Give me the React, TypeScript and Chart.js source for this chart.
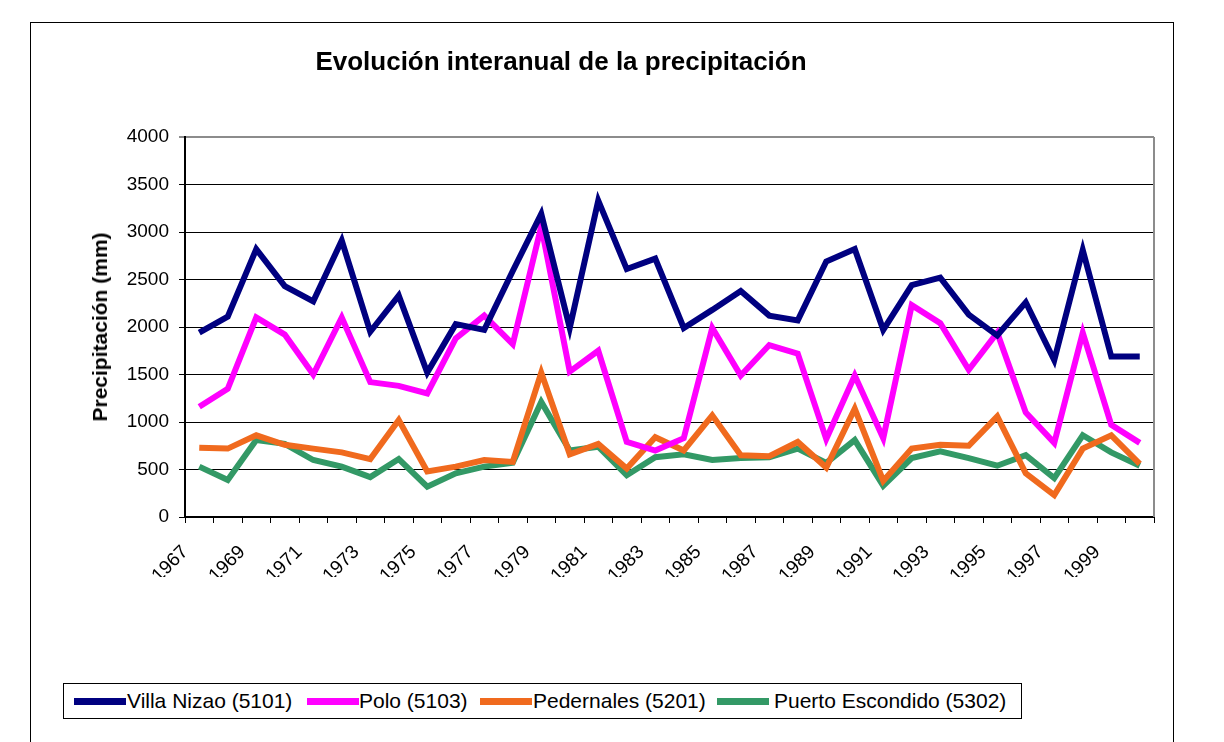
import React, { useEffect, useRef } from 'react';
import { Chart, registerables } from 'chart.js';

Chart.register(...registerables);

const years = [
  '1967', '1968', '1969', '1970', '1971', '1972', '1973', '1974', '1975', '1976',
  '1977', '1978', '1979', '1980', '1981', '1982', '1983', '1984', '1985', '1986',
  '1987', '1988', '1989', '1990', '1991', '1992', '1993', '1994', '1995', '1996',
  '1997', '1998', '1999', '2000',
];

const villaNizao = [
  1940, 2110, 2820, 2430, 2270, 2910, 1950, 2330, 1520, 2030,
  1970, 2590, 3190, 1990, 3330, 2610, 2720, 1990, 2180, 2380,
  2120, 2070, 2690, 2820, 1970, 2440, 2520, 2130, 1910, 2260,
  1650, 2810, 1690, 1690,
];

const polo = [
  1160, 1350, 2100, 1920, 1500, 2100, 1420, 1380, 1300, 1880,
  2120, 1820, 3060, 1530, 1750, 790, 700, 830, 1990, 1490,
  1810, 1720, 820, 1490, 830, 2230, 2040, 1550, 1940, 1100,
  780, 1940, 970, 780,
];

const pedernales = [
  730, 720, 860, 760, 720, 680, 610, 1020, 480, 530,
  600, 580, 1520, 660, 770, 510, 840, 700, 1070, 650,
  640, 790, 520, 1140, 380, 720, 760, 750, 1060, 460,
  230, 720, 860, 560,
];

const puertoEscondido = [
  530, 390, 810, 770, 600, 530, 420, 610, 320, 460,
  530, 570, 1210, 700, 740, 440, 630, 660, 600, 620,
  630, 720, 570, 810, 330, 620, 690, 620, 540, 650,
  410, 860, 680, 540,
];

const seriesNames = [
  'Villa Nizao (5101)',
  'Polo (5103)',
  'Pedernales (5201)',
  'Puerto Escondido (5302)',
];
const seriesColors = ['#000080', '#FF00FF', '#F06A1E', '#339966'];

const yTicks = [0, 500, 1000, 1500, 2000, 2500, 3000, 3500, 4000];

const FONT = '"Liberation Sans", Arial, Helvetica, sans-serif';

const plotBorderPlugin = {
  id: 'plotBorder',
  beforeDatasetsDraw(chart: any) {
    const { ctx, chartArea } = chart;
    ctx.save();
    ctx.strokeStyle = '#8c8c8c';
    ctx.lineWidth = 2;
    ctx.beginPath();
    ctx.moveTo(chartArea.right, chartArea.top);
    ctx.lineTo(chartArea.right, chartArea.bottom);
    ctx.stroke();
    ctx.restore();
  },
};

export default function App() {
  const ref = useRef<HTMLCanvasElement>(null);

  useEffect(() => {
    const allSeries = [villaNizao, polo, pedernales, puertoEscondido];
    const chart = new Chart(ref.current as HTMLCanvasElement, {
      type: 'line',
      data: {
        labels: years,
        datasets: allSeries.map((d, i) => ({
          label: seriesNames[i],
          data: d,
          borderColor: seriesColors[i],
          backgroundColor: seriesColors[i],
          borderWidth: 6,
          pointRadius: 0,
          tension: 0,
          fill: false,
          borderJoinStyle: 'miter' as const,
        })),
      },
      options: {
        animation: false,
        responsive: false,
        maintainAspectRatio: false,
        layout: { padding: { left: 0, right: 70, top: 137, bottom: 165 } },
        plugins: {
          legend: { display: false },
          title: { display: false },
          tooltip: { enabled: false },
        },
        scales: {
          x: {
            type: 'category',
            offset: true,
            grid: {
              offset: true,
              drawOnChartArea: false,
              drawTicks: true,
              tickLength: 6,
              color: '#000',
              lineWidth: 1,
            },
            border: { display: true, color: '#000', width: 2 },
            ticks: {
              autoSkip: false,
              maxRotation: 45,
              minRotation: 45,
              padding: 18,
              labelOffset: -14,
              color: '#000',
              font: { family: FONT, size: 19 },
              callback: (_v: any, i: number) => (i % 2 === 0 ? years[i] : ''),
            },
            afterFit: (s: any) => {
              s.height = 60;
            },
          },
          y: {
            min: 0,
            max: 4000,
            afterBuildTicks: (s: any) => {
              s.ticks = yTicks.map((v) => ({ value: v }));
            },
            grid: {
              drawTicks: true,
              tickLength: 6,
              color: (c: any) => (c.tick && c.tick.value === 4000 ? '#8c8c8c' : '#000'),
              lineWidth: (c: any) => (c.tick && c.tick.value === 4000 ? 2 : 1),
            },
            border: { display: true, color: '#000', width: 2 },
            ticks: {
              padding: 10,
              color: '#000',
              font: { family: FONT, size: 19 },
              callback: (v: any) => String(v),
            },
            afterFit: (s: any) => {
              s.width = 185;
            },
          },
        },
      },
      plugins: [plotBorderPlugin],
    });
    return () => chart.destroy();
  }, []);

  const legendItems = [
    { sw: 10, tx: 63 },
    { sw: 243, tx: 295 },
    { sw: 416, tx: 469 },
    { sw: 653, tx: 710 },
  ];

  return (
    <div
      style={{
        position: 'fixed',
        left: 0,
        top: 0,
        width: 1224,
        height: 742,
        background: '#fff',
        overflow: 'hidden',
        fontFamily: FONT,
        color: '#000',
      }}
    >
      <div
        style={{
          position: 'absolute',
          left: 30,
          top: 22,
          width: 1142,
          height: 800,
          border: '1px solid #000',
        }}
      />
      <canvas
        ref={ref}
        width={1224}
        height={742}
        style={{ position: 'absolute', left: 0, top: 0, width: 1224, height: 742 }}
      />
      <div
        style={{
          position: 'absolute',
          left: 561,
          top: 61,
          transform: 'translate(-50%, -50%)',
          whiteSpace: 'nowrap',
          fontWeight: 'bold',
          fontSize: 26,
        }}
      >
        Evolución interanual de la precipitación
      </div>
      <div
        style={{
          position: 'absolute',
          left: 100,
          top: 327,
          transform: 'translate(-50%, -50%) rotate(-90deg)',
          whiteSpace: 'nowrap',
          fontWeight: 'bold',
          fontSize: 21,
        }}
      >
        Precipitación (mm)
      </div>
      <div
        style={{
          position: 'absolute',
          left: 63,
          top: 683,
          width: 957,
          height: 34,
          border: '1px solid #000',
          background: '#fff',
        }}
      >
        {legendItems.map((it, i) => (
          <React.Fragment key={i}>
            <div
              style={{
                position: 'absolute',
                left: it.sw,
                top: 14,
                width: 52,
                height: 7,
                background: seriesColors[i],
              }}
            />
            <div
              style={{
                position: 'absolute',
                left: it.tx,
                top: 0,
                height: 34,
                lineHeight: '34px',
                fontSize: 21,
                whiteSpace: 'nowrap',
              }}
            >
              {seriesNames[i]}
            </div>
          </React.Fragment>
        ))}
      </div>
    </div>
  );
}
